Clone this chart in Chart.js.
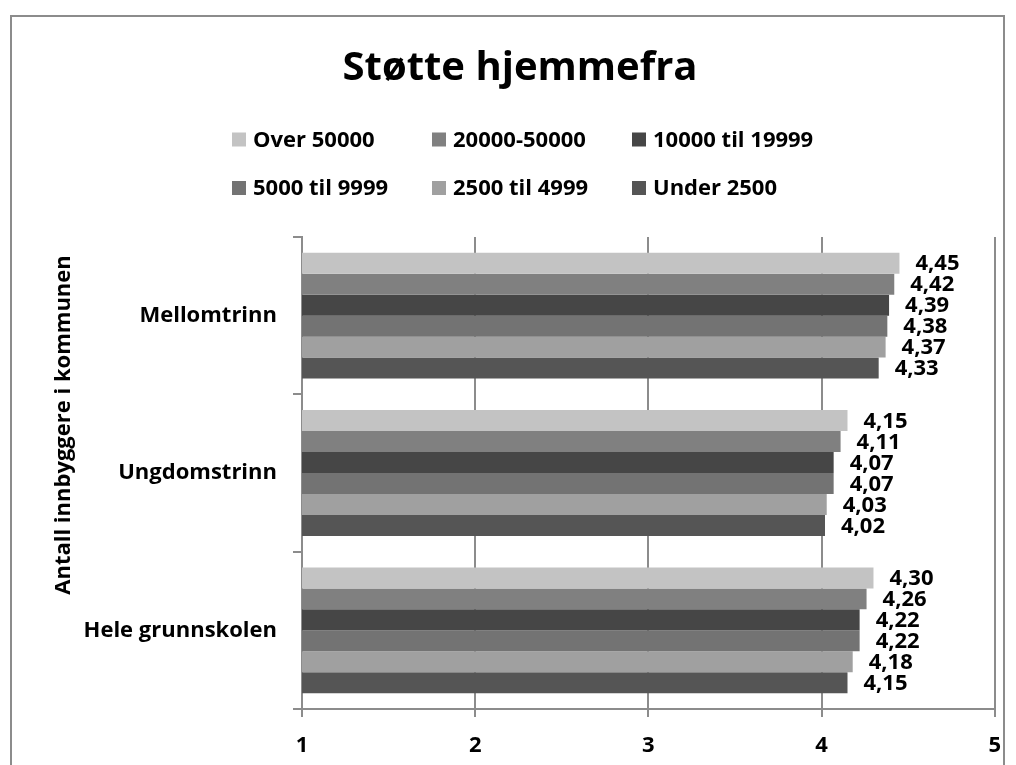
<!DOCTYPE html>
<html>
<head>
<meta charset="utf-8">
<title>Støtte hjemmefra</title>
<script src="https://cdn.jsdelivr.net/npm/chart.js@4/dist/chart.umd.min.js"></script>
<style>
    html, body { margin: 0; padding: 0; background: #fff; overflow: hidden; }
    #frame {
        position: absolute;
        left: 10px;
        top: 15px;
        width: 991px;
        height: 770px;
        border: 2px solid #8c8c8c;
    }
    #chart-box { position: relative; width: 1005px; height: 760px; }
</style>
</head>
<body>
<div id="frame">
    <div id="chart-box"><canvas id="stotteChart"></canvas></div>
</div>
<script>
// Kategorier (trinn) og serier (antall innbyggere)
const kategorier = ['Mellomtrinn', 'Ungdomstrinn', 'Hele grunnskolen'];
const serieNavn = ['Over 50000', '20000-50000', '10000 til 19999', '5000 til 9999', '2500 til 4999', 'Under 2500'];
const serieFarger = ['#c3c3c3', '#808080', '#464646', '#737373', '#a0a0a0', '#555555'];

const over50000 = [4.45, 4.15, 4.30];
const fra20000 = [4.42, 4.11, 4.26];
const fra10000 = [4.39, 4.07, 4.22];
const fra5000 = [4.38, 4.07, 4.22];
const fra2500 = [4.37, 4.03, 4.18];
const under2500 = [4.33, 4.02, 4.15];
const serieVerdier = [over50000, fra20000, fra10000, fra5000, fra2500, under2500];

const xTicks = [1, 2, 3, 4, 5];
const tittel = 'Støtte hjemmefra';
const yTittel = 'Antall innbyggere i kommunen';

const FONT = '"Open Sans"';
const gridFarge = '#8c8c8c';

function formatVerdi(v) {
    return v.toFixed(2).replace('.', ',');
}

// Verdietiketter til høyre for hver stolpe
const verdiEtiketter = {
    id: 'verdiEtiketter',
    afterDatasetsDraw(chart) {
        const ctx = chart.ctx;
        ctx.save();
        ctx.font = 'bold 22px ' + FONT;
        ctx.fillStyle = '#000';
        ctx.textAlign = 'left';
        ctx.textBaseline = 'middle';
        chart.data.datasets.forEach((ds, i) => {
            const meta = chart.getDatasetMeta(i);
            meta.data.forEach((bar, j) => {
                ctx.fillText(formatVerdi(ds.data[j]), bar.x + 16, bar.y + 1);
            });
        });
        ctx.restore();
    }
};

// Tittel, forklaring i to rader med tre kolonner, og loddrett aksetittel
const tekster = {
    id: 'tekster',
    afterDraw(chart) {
        const ctx = chart.ctx;
        ctx.save();
        ctx.fillStyle = '#000';
        ctx.textAlign = 'center';
        ctx.textBaseline = 'middle';
        ctx.font = 'bold 40px ' + FONT;
        ctx.fillText(tittel, 508, 52);

        const startX = 220;
        const radY = [122.5, 171];
        ctx.font = 'bold 22px ' + FONT;
        ctx.textAlign = 'left';
        serieNavn.forEach((navn, i) => {
            const kol = i % 3;
            const rad = Math.floor(i / 3);
            const x = startX + kol * 200;
            const y = radY[rad];
            ctx.fillStyle = serieFarger[i];
            ctx.fillRect(x, y - 7, 14, 14);
            ctx.fillStyle = '#000';
            ctx.fillText(navn, x + 21, y + 1);
        });

        ctx.translate(52, 408);
        ctx.rotate(-Math.PI / 2);
        ctx.textAlign = 'center';
        ctx.font = 'bold 22px ' + FONT;
        ctx.fillText(yTittel, 0, 0);
        ctx.restore();
    }
};

const ctx = document.getElementById('stotteChart').getContext('2d');
new Chart(ctx, {
    type: 'bar',
    data: {
        labels: kategorier,
        datasets: serieNavn.map((navn, i) => ({
            label: navn,
            data: serieVerdier[i],
            backgroundColor: serieFarger[i],
            borderWidth: 0,
            categoryPercentage: 0.8,
            barPercentage: 1.0
        }))
    },
    options: {
        indexAxis: 'y',
        responsive: true,
        maintainAspectRatio: false,
        animation: false,
        layout: { padding: { left: 0, right: 0, top: 220, bottom: 0 } },
        plugins: {
            legend: { display: false },
            tooltip: { enabled: false },
            title: { display: false }
        },
        scales: {
            x: {
                min: 1,
                max: 5,
                afterFit(scale) { scale.height = 68; },
                afterBuildTicks(scale) {
                    scale.ticks = xTicks.map(v => ({ value: v }));
                },
                border: { display: true, color: gridFarge, width: 2 },
                grid: {
                    color: gridFarge,
                    lineWidth: 2,
                    drawTicks: true,
                    tickLength: 8
                },
                ticks: {
                    color: '#000',
                    padding: 16,
                    font: { family: FONT, size: 22, weight: 'bold' }
                }
            },
            y: {
                afterFit(scale) { scale.width = 290; },
                border: { display: true, color: gridFarge, width: 2 },
                grid: {
                    offset: true,
                    drawOnChartArea: false,
                    color: gridFarge,
                    lineWidth: 2,
                    tickLength: 9
                },
                ticks: {
                    color: '#000',
                    padding: 16,
                    font: { family: FONT, size: 22, weight: 'bold' }
                }
            }
        }
    },
    plugins: [verdiEtiketter, tekster]
});
</script>
</body>
</html>
